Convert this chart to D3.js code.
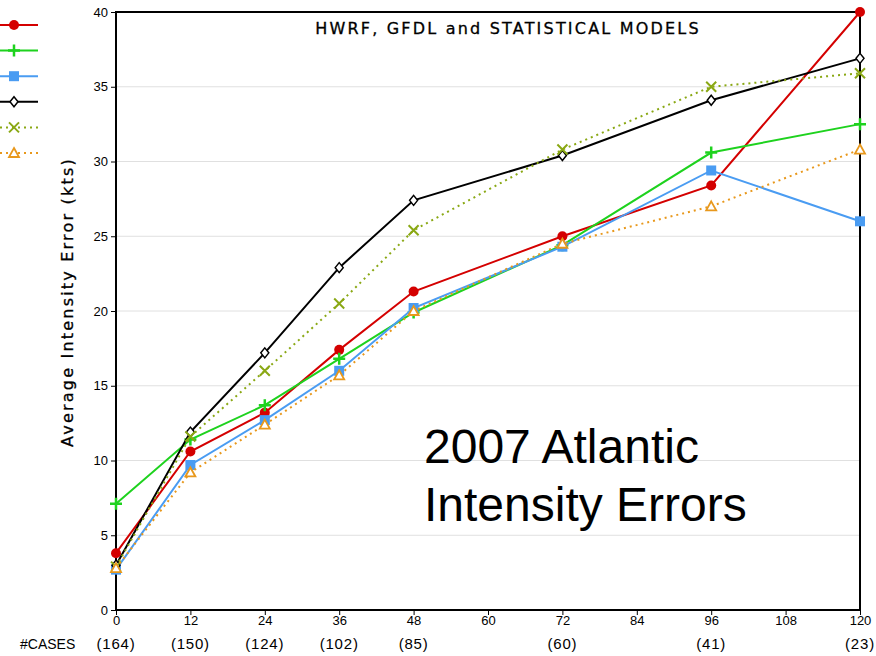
<!DOCTYPE html>
<html><head><meta charset="utf-8">
<script src="https://cdn.jsdelivr.net/npm/d3@7"></script>
<style>body{margin:0;background:#fff}svg{display:block}</style>
</head><body>
<svg id="c" width="876" height="656"></svg>
<script>
const hours = [0, 12, 24, 36, 48, 72, 96, 120];
const cases = ["(164)", "(150)", "(124)", "(102)", "(85)", "(60)", "(41)", "(23)"];
const xTicks = [0, 12, 24, 36, 48, 60, 72, 84, 96, 108, 120];
const yTicks = [0, 5, 10, 15, 20, 25, 30, 35, 40];
const redVals    = [3.8, 10.6, 13.2, 17.4, 21.3, 25.0, 28.4, 40.0];
const greenVals  = [7.1, 11.4, 13.7, 16.8, 19.9, 24.4, 30.6, 32.5];
const blueVals   = [2.7, 9.7, 12.7, 16.0, 20.2, 24.3, 29.4, 26.0];
const blackVals  = [3.0, 11.9, 17.2, 22.9, 27.4, 30.4, 34.1, 36.9];
const oliveVals  = [2.9, 11.6, 16.0, 20.5, 25.4, 30.8, 35.0, 35.9];
const orangeVals = [2.8, 9.2, 12.4, 15.7, 20.0, 24.5, 27.0, 30.8];

const series = [
  {v: redVals, c: "#d40000", dash: null, m: "circle"},
  {v: greenVals, c: "#1ed21e", dash: null, m: "plus"},
  {v: blueVals, c: "#4a9cf2", dash: null, m: "square"},
  {v: blackVals, c: "#000000", dash: null, m: "diamond"},
  {v: oliveVals, c: "#8aa814", dash: "2,4", m: "cross"},
  {v: orangeVals, c: "#e8981c", dash: "2,4", m: "triangle"}
];

const svg = d3.select("#c");
const x = d3.scaleLinear().domain([0, 120]).range([116, 860]);
const y = d3.scaleLinear().domain([0, 40]).range([610, 12]);

// gridlines
svg.append("g").selectAll("line").data(yTicks.filter(d => d > 0 && d < 40)).join("line")
  .attr("x1", x(0)).attr("x2", x(120)).attr("y1", d => y(d)).attr("y2", d => y(d))
  .attr("stroke", "#e0e0e0").attr("stroke-width", 1);

// frame
svg.append("rect").attr("x", x(0)).attr("y", y(40)).attr("width", x(120) - x(0)).attr("height", y(0) - y(40))
  .attr("fill", "none").attr("stroke", "#000").attr("stroke-width", 2);

// axes
const yAxis = svg.append("g").attr("transform", `translate(${x(0)},0)`)
  .call(d3.axisLeft(y).tickValues(yTicks).tickSize(5).tickPadding(3));
const xAxis = svg.append("g").attr("transform", `translate(0,${y(0)})`)
  .call(d3.axisBottom(x).tickValues(xTicks).tickSize(5).tickPadding(1));
[yAxis, xAxis].forEach(g => {
  g.select(".domain").remove();
  g.selectAll("line").attr("stroke", "#000");
  g.selectAll("text").attr("font-size", 13).attr("fill", "#000").attr("font-family", "'Liberation Sans',sans-serif");
});

// lines
const line = d3.line().x((d, i) => x(hours[i])).y(d => y(d));
function drawMarker(g, m, c, px, py) {
  if (m === "circle") g.append("circle").attr("cx", px).attr("cy", py).attr("r", 5).attr("fill", c);
  else if (m === "square") g.append("rect").attr("x", px - 5).attr("y", py - 5).attr("width", 10).attr("height", 10).attr("fill", c);
  else if (m === "plus") g.append("path").attr("d", `M${px-6},${py}H${px+6}M${px},${py-6}V${py+6}`).attr("stroke", c).attr("stroke-width", 2.5).attr("fill", "none");
  else if (m === "cross") g.append("path").attr("d", `M${px-5},${py-5}L${px+5},${py+5}M${px-5},${py+5}L${px+5},${py-5}`).attr("stroke", c).attr("stroke-width", 2).attr("fill", "none");
  else if (m === "diamond") g.append("path").attr("d", `M${px},${py-5}L${px+4},${py}L${px},${py+5}L${px-4},${py}Z`).attr("stroke", c).attr("stroke-width", 1.5).attr("fill", "#fff");
  else if (m === "triangle") g.append("path").attr("d", `M${px},${py-5}L${px+5},${py+4}L${px-5},${py+4}Z`).attr("stroke", c).attr("stroke-width", 1.8).attr("fill", "#fff");
}
series.forEach(s => {
  const g = svg.append("g");
  g.append("path").datum(s.v).attr("d", line).attr("fill", "none").attr("stroke", s.c)
    .attr("stroke-width", 2).attr("stroke-dasharray", s.dash);
  s.v.forEach((d, i) => drawMarker(g, s.m, s.c, x(hours[i]), y(d)));
});

// legend
series.forEach((s, i) => {
  const ly = 25 + i * 25.6;
  const g = svg.append("g");
  g.append("line").attr("x1", 0).attr("x2", 38).attr("y1", ly).attr("y2", ly)
    .attr("stroke", s.c).attr("stroke-width", 2).attr("stroke-dasharray", s.dash);
  drawMarker(g, s.m, s.c, 14, ly);
});

// title
svg.append("text").attr("x", 508).attr("y", 34).attr("text-anchor", "middle")
  .attr("font-size", 16).attr("letter-spacing", 2.2).attr("font-family", "'DejaVu Sans',sans-serif")
  .attr("stroke", "#000").attr("stroke-width", 0.3)
  .text("HWRF, GFDL and STATISTICAL MODELS");

// y label
svg.append("text").attr("transform", "translate(73,302) rotate(-90)").attr("text-anchor", "middle")
  .attr("font-size", 16).attr("letter-spacing", 2.2).attr("font-family", "'DejaVu Sans',sans-serif")
  .attr("stroke", "#000").attr("stroke-width", 0.3)
  .text("Average Intensity Error (kts)");

// cases row
svg.append("text").attr("x", 20).attr("y", 649).attr("font-size", 14).attr("font-family", "'Liberation Sans',sans-serif").text("#CASES");
svg.append("g").selectAll("text").data(hours).join("text")
  .attr("x", d => x(d)).attr("y", 649).attr("text-anchor", "middle")
  .attr("font-size", 15).attr("letter-spacing", 0.8).attr("font-family", "'Liberation Sans',sans-serif")
  .text((d, i) => cases[i]);

// annotation
const ann = svg.append("text").attr("font-family", "'Liberation Sans',Arial,sans-serif").attr("font-size", 48).attr("fill", "#000");
ann.append("tspan").attr("x", 424).attr("y", 463).text("2007 Atlantic");
ann.append("tspan").attr("x", 424).attr("y", 521).text("Intensity Errors");
</script>
</body></html>
